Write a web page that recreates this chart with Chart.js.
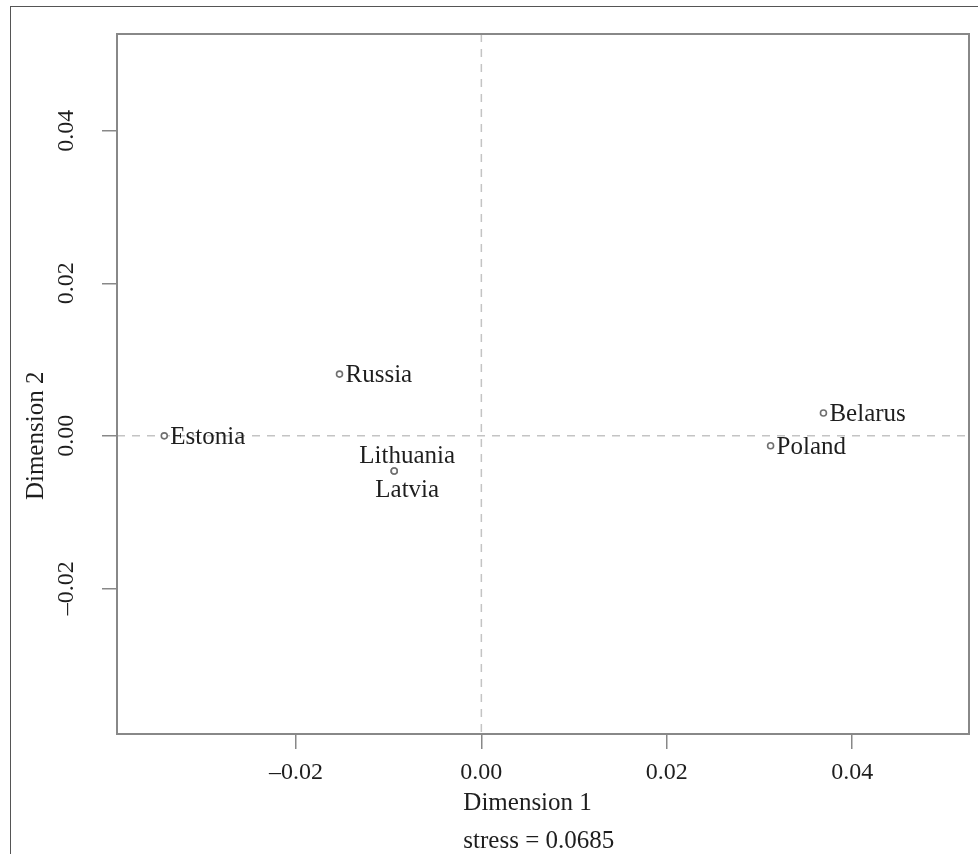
<!DOCTYPE html>
<html>
<head>
<meta charset="utf-8">
<script src="https://cdn.jsdelivr.net/npm/chart.js@4"></script>
<style>
  html, body { margin: 0; padding: 0; background: #fff; overflow: hidden; }
  #wrap { position: relative; width: 978px; height: 854px; }
  #frame { position: absolute; left: 10px; top: 6px; width: 1000px; height: 900px; border: 1.5px solid #555; }
  #mds { position: absolute; left: 0; top: 0; }
</style>
</head>
<body>
<div id="wrap">
  <div id="frame"></div>
  <canvas id="mds" width="978" height="854"></canvas>
</div>
<script>
// MDS coordinates
const countries = ['Estonia', 'Russia', 'Lithuania', 'Latvia', 'Poland', 'Belarus'];
const dim1 = [-0.0342, -0.0153, -0.0094, -0.0094, 0.0312, 0.0369];
const dim2 = [0.0000, 0.0081, -0.0046, -0.0046, -0.0013, 0.0030];
const labelSide = ['right', 'right', 'above', 'below', 'right', 'right'];

const xTicks = [-0.02, 0, 0.02, 0.04];
const yTicks = [-0.02, 0, 0.02, 0.04];
const xRange = [-0.0393, 0.0526];
const yRange = [-0.0391, 0.0527];

const xTitle = 'Dimension 1';
const yTitle = 'Dimension 2';
const stressText = 'stress = 0.0685';

const SERIF = '"Liberation Serif", "Times New Roman", serif';
const fmt = (v) => Number(v).toFixed(2).replace('-', '\u2013');

const points = dim1.map((x, i) => ({ x: x, y: dim2[i] }));

// dashed zero lines, plot box, point labels and rotated y tick labels
const mdsPlugin = {
  id: 'mdsPlugin',
  beforeDatasetsDraw(chart) {
    const { ctx, chartArea: a, scales: { x, y } } = chart;
    const x0 = x.getPixelForValue(0);
    const y0 = y.getPixelForValue(0);
    ctx.save();
    ctx.strokeStyle = '#c4c4c4';
    ctx.lineWidth = 1.5;
    ctx.setLineDash([8, 7]);
    ctx.beginPath();
    ctx.moveTo(x0, a.top);
    ctx.lineTo(x0, a.bottom);
    ctx.moveTo(a.left, y0);
    ctx.lineTo(a.right, y0);
    ctx.stroke();
    ctx.setLineDash([]);
    ctx.strokeStyle = '#888';
    ctx.lineWidth = 2;
    ctx.strokeRect(a.left, a.top, a.right - a.left, a.bottom - a.top);
    ctx.restore();
  },
  afterDatasetsDraw(chart) {
    const { ctx, scales: { x, y } } = chart;
    const meta = chart.getDatasetMeta(0);
    ctx.save();
    ctx.fillStyle = '#1e1e1e';
    ctx.font = '25px ' + SERIF;
    ctx.textBaseline = 'alphabetic';
    meta.data.forEach((pt, i) => {
      const side = labelSide[i];
      if (side === 'right') {
        ctx.textAlign = 'left';
        ctx.fillText(countries[i], pt.x + 6, pt.y + 8);
      } else if (side === 'above') {
        ctx.textAlign = 'center';
        ctx.fillText(countries[i], pt.x + 13, pt.y - 8);
      } else {
        ctx.textAlign = 'center';
        ctx.fillText(countries[i], pt.x + 13, pt.y + 26);
      }
    });

    // y tick labels, rotated like R's default
    ctx.font = '24px ' + SERIF;
    ctx.textAlign = 'center';
    ctx.textBaseline = 'middle';
    yTicks.forEach((v) => {
      ctx.save();
      ctx.translate(67, y.getPixelForValue(v));
      ctx.rotate(-Math.PI / 2);
      ctx.fillText(fmt(v), 0, 0);
      ctx.restore();
    });

    // axis titles
    ctx.font = '25px ' + SERIF;
    ctx.save();
    ctx.translate(36, y.getPixelForValue(0));
    ctx.rotate(-Math.PI / 2);
    ctx.fillText(yTitle, 0, 0);
    ctx.restore();

    const x0 = x.getPixelForValue(0);
    ctx.textAlign = 'left';
    ctx.textBaseline = 'alphabetic';
    ctx.fillText(xTitle, x0 - 18, 810);
    ctx.fillText(stressText, x0 - 18, 848);
    ctx.restore();
  }
};

new Chart(document.getElementById('mds'), {
  type: 'scatter',
  data: {
    datasets: [{
      data: points,
      pointRadius: 3,
      pointHoverRadius: 3,
      pointBorderWidth: 1.6,
      pointBorderColor: '#707070',
      pointBackgroundColor: '#fff'
    }]
  },
  options: {
    responsive: false,
    animation: false,
    devicePixelRatio: 1,
    layout: { padding: { top: 34, right: 9, left: 0, bottom: 0 } },
    plugins: { legend: { display: false }, tooltip: { enabled: false } },
    scales: {
      x: {
        type: 'linear',
        min: xRange[0],
        max: xRange[1],
        afterBuildTicks: (s) => { s.ticks = xTicks.map((v) => ({ value: v })); },
        afterFit: (s) => { s.height = 120; },
        grid: { drawOnChartArea: false, color: '#888', lineWidth: 1.5, tickLength: 15 },
        border: { display: false },
        ticks: {
          callback: fmt,
          autoSkip: false,
          maxRotation: 0,
          padding: 9,
          color: '#1e1e1e',
          font: { family: SERIF, size: 24 }
        }
      },
      y: {
        type: 'linear',
        min: yRange[0],
        max: yRange[1],
        afterBuildTicks: (s) => { s.ticks = yTicks.map((v) => ({ value: v })); },
        afterFit: (s) => { s.width = 117; },
        grid: { drawOnChartArea: false, color: '#888', lineWidth: 1.5, tickLength: 15 },
        border: { display: false },
        ticks: { display: false }
      }
    }
  },
  plugins: [mdsPlugin]
});
</script>
</body>
</html>
